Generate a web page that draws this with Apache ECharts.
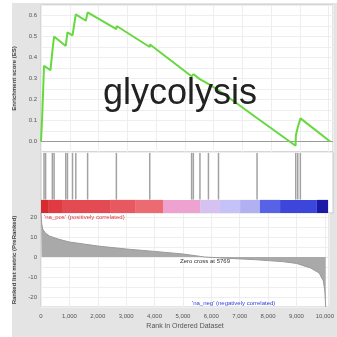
<!DOCTYPE html>
<html>
<head>
<meta charset="utf-8">
<style>
  html, body { margin: 0; padding: 0; background: #fff; }
  #chart { width: 337px; height: 337px; }
</style>
<script src="https://cdn.jsdelivr.net/npm/echarts@6/dist/echarts.min.js"></script>
</head>
<body>
<div id="chart"></div>
<script>
// running enrichment score, vertices
const esRank = [0, 45, 105, 160, 330, 395, 455, 860, 920, 1095, 1210, 1560, 1620, 2620, 2630, 3780, 3790,
  5230, 5240, 5290, 5300, 5520, 5530, 5815, 5825, 6165, 6175, 7505, 7515, 8850, 8860, 8930, 9020, 10050]
const esScore = [0, 0.13, 0.36, 0.365, 0.34, 0.43, 0.5, 0.455, 0.52, 0.505, 0.605, 0.575, 0.615, 0.535, 0.55, 0.45, 0.462,
  0.311, 0.318, 0.313, 0.32, 0.297, 0.304, 0.274, 0.281, 0.245, 0.252, 0.112, 0.12, -0.02, 0.03, 0.07, 0.11, 0]

// gene set hits (rank positions)
const hitRanks = [105, 160, 395, 455, 860, 920, 1095, 1210, 1620, 2620, 3780, 5235, 5295, 5525, 5820, 6170, 7510, 8855, 8925, 9015]

// ranked list colour bar blocks
const barStart = [0, 245, 730, 2400, 3270, 4240, 5530, 6220, 6920, 7610, 8310, 9590]
const barEnd = [245, 730, 2400, 3270, 4240, 5530, 6220, 6920, 7610, 8310, 9590, 9980]
const barColors = ['#d42a30', '#e03a42', '#e44a52', '#e85860', '#ec6a72', '#eea2cf', '#d6c2f0', '#c4c2f6', '#b0b0f2',
  '#5862e6', '#3c46da', '#1a1aa6']

// ranked list metric
const metricRank = [0, 20, 60, 150, 300, 600, 1000, 1500, 2000, 3000, 4000, 5000, 5769, 6500, 7500, 8500, 9000, 9500, 9800, 9950, 10000, 10030]
const metricValue = [22, 17, 14, 12, 10.5, 9, 7.5, 6.5, 5.5, 4, 2.8, 1.5, 0, -0.6, -1.3, -2.3, -3.2, -5.5, -8, -12, -17, -25]

const xTickInterval = 1000
const xMax = 10150

const chart = echarts.init(document.getElementById('chart'))

const fmtX = (v) => v.toLocaleString('en-US')
const lbl = { fontFamily: 'Liberation Sans', fontSize: 6, color: '#555' }
const faint = { show: true, lineStyle: { color: '#eeeeee', width: 1 } }

const xBase = {
  type: 'value',
  min: 0,
  max: xMax,
  interval: xTickInterval,
  axisLine: { show: false },
  axisTick: { show: false },
  axisLabel: { show: false },
  splitLine: faint,
}

const option = {
  animation: false,
  backgroundColor: '#ffffff',
  graphic: [
    {
      type: 'rect',
      z: -10,
      silent: true,
      shape: { x: 12, y: 3, width: 325, height: 334 },
      style: { fill: '#e4e4e4' },
    },
    {
      type: 'text',
      z: 50,
      left: 103,
      top: 76,
      style: { text: 'glycolysis', font: '36px "Liberation Sans"', fill: '#222' },
    },
    {
      type: 'text',
      z: 50,
      left: 44,
      top: 214,
      style: { text: "'na_pos' (positively correlated)", font: '6px "Liberation Sans"', fill: '#e0353a' },
    },
    {
      type: 'text',
      z: 50,
      left: 180,
      top: 258,
      style: { text: 'Zero cross at 5769', font: '6px "Liberation Sans"', fill: '#333' },
    },
    {
      type: 'text',
      z: 50,
      left: 192,
      top: 300,
      style: { text: "'na_neg' (negatively correlated)", font: '6px "Liberation Sans"', fill: '#3344dd' },
    },
  ],
  grid: [
    { left: 41, right: 4, top: 5, height: 147, show: true, backgroundColor: '#fff', borderColor: '#c8c8c8', borderWidth: 1 },
    { left: 41, right: 4, top: 152, height: 61, show: true, backgroundColor: '#fff', borderColor: '#c8c8c8', borderWidth: 1 },
    { left: 41, right: 4, top: 213, height: 94, show: true, backgroundColor: '#fff', borderColor: '#c8c8c8', borderWidth: 1 },
  ],
  xAxis: [
    Object.assign({ gridIndex: 0 }, xBase),
    Object.assign({ gridIndex: 1 }, xBase, { splitLine: { show: false } }),
    Object.assign({ gridIndex: 2 }, xBase, {
      axisLabel: Object.assign({ show: true, margin: 6, formatter: fmtX }, lbl),
      name: 'Rank in Ordered Dataset',
      nameLocation: 'middle',
      nameGap: 16,
      nameTextStyle: { fontFamily: 'Liberation Sans', fontSize: 7, color: '#555' },
    }),
  ],
  yAxis: [
    {
      gridIndex: 0,
      type: 'value',
      min: -0.05,
      max: 0.65,
      interval: 0.05,
      axisLine: { show: false },
      axisTick: { show: false },
      axisLabel: Object.assign({
        margin: 4,
        formatter: (v) => (Math.round(v * 100) % 10 === 0 ? v.toFixed(1) : ''),
      }, lbl),
      splitLine: faint,
      name: 'Enrichment score (ES)',
      nameLocation: 'middle',
      nameGap: 19,
      nameTextStyle: { fontFamily: 'Liberation Sans', fontSize: 6, fontWeight: 'bold', color: '#444' },
    },
    {
      gridIndex: 1,
      type: 'value',
      min: 0,
      max: 1,
      show: false,
    },
    {
      gridIndex: 2,
      type: 'value',
      min: -25,
      max: 22,
      interval: 5,
      axisLine: { show: false },
      axisTick: { show: false },
      axisLabel: Object.assign({
        margin: 4,
        formatter: (v) => (v % 10 === 0 ? String(v) : ''),
      }, lbl),
      splitLine: faint,
      name: 'Ranked list metric (PreRanked)',
      nameLocation: 'middle',
      nameGap: 19,
      nameTextStyle: { fontFamily: 'Liberation Sans', fontSize: 6, fontWeight: 'bold', color: '#444' },
    },
  ],
  series: [
    {
      type: 'line',
      xAxisIndex: 0,
      yAxisIndex: 0,
      data: esRank.map((r, i) => [r, esScore[i]]),
      symbol: 'none',
      lineStyle: { color: '#66d93f', width: 2 },
      z: 5,
      markLine: {
        silent: true,
        symbol: 'none',
        label: { show: false },
        lineStyle: { color: '#9a9a9a', width: 1, type: 'solid' },
        data: [{ yAxis: 0 }],
      },
    },
    {
      type: 'custom',
      xAxisIndex: 1,
      yAxisIndex: 1,
      data: hitRanks.map((r) => [r]),
      encode: { x: 0 },
      renderItem(params, api) {
        const a = api.coord([api.value(0), 0.22])
        const b = api.coord([api.value(0), 0.985])
        return {
          type: 'line',
          shape: { x1: a[0], y1: a[1], x2: b[0], y2: b[1] },
          style: { stroke: '#a2a2a2', lineWidth: 1.5 },
        }
      },
    },
    {
      type: 'custom',
      xAxisIndex: 1,
      yAxisIndex: 1,
      data: barStart.map((s, i) => [s, barEnd[i], i]),
      encode: { x: [0, 1] },
      renderItem(params, api) {
        const a = api.coord([api.value(0), 0.215])
        const b = api.coord([api.value(1), 0])
        return {
          type: 'rect',
          shape: { x: a[0], y: a[1], width: b[0] - a[0], height: b[1] - a[1] },
          style: { fill: barColors[api.value(2)] },
        }
      },
    },
    {
      type: 'line',
      xAxisIndex: 2,
      yAxisIndex: 2,
      data: metricRank.map((r, i) => [r, metricValue[i]]),
      symbol: 'none',
      lineStyle: { color: '#9a9a9a', width: 1 },
      areaStyle: { color: '#a9a9a9', opacity: 1 },
    },
  ],
}

chart.setOption(option)
</script>
</body>
</html>
